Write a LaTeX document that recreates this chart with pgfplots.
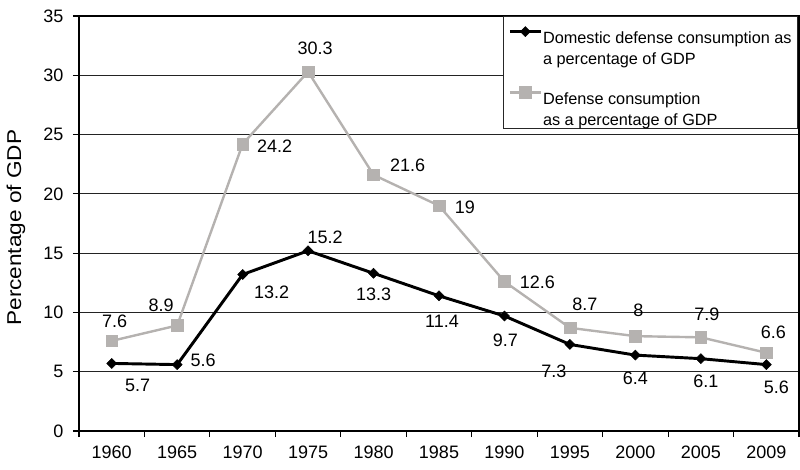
\documentclass[border=0pt]{standalone}
\usepackage{graphicx}
\usepackage{pgfplots}
\pgfplotsset{compat=1.18}
\usepackage{pgfplotstable}
\usepackage{fontspec}
\setmainfont{Liberation Sans}
\definecolor{gry}{RGB}{181,178,176}
\definecolor{gridc}{RGB}{35,35,35}

% domestic defense consumption (black)
\pgfplotstableread{
x y lab dx dy
0 5.7 5.7 19.5 -16.5
1 5.6 5.6 19.5 3
2 13.2 13.2 21.75 -13.5
3 15.2 15.2 12.75 9.75
4 13.3 13.3 0 -15.75
5 11.4 11.4 2.25 -18.75
6 9.7 9.7 0.75 -18
7 7.3 7.3 -12 -20.25
8 6.4 6.4 0 -17.25
9 6.1 6.1 3.75 -17.25
10 5.6 5.6 7.5 -17.25
}\dom

% defense consumption (gray)
\pgfplotstableread{
x y lab dx dy
0 7.6 7.6 2.25 15
1 8.9 8.9 -12 15
2 24.2 24.2 24 -1.5
3 30.3 30.3 5.25 17.25
4 21.6 21.6 25.5 7.5
5 19 19 19.5 -1.5
6 12.6 12.6 24.75 -0.75
7 8.7 8.7 11.25 18
8 8 8 2.25 19.5
9 7.9 7.9 4.5 17.25
10 6.6 6.6 5.25 15
}\defcons

\pgfplotsset{labelled/.style={
  point meta=explicit symbolic,
  nodes near coords,
  visualization depends on={\thisrow{dx} \as \dx},
  visualization depends on={\thisrow{dy} \as \dy},
  nodes near coords style={font=\fontsize{13.5}{16}\selectfont, text=black, anchor=center, xshift=\dx pt, yshift=\dy pt},
}}

\begin{document}
\begin{tikzpicture}
\useasboundingbox (-59.25pt,-28.5pt) rectangle (540.75pt,323.25pt);
\begin{axis}[
  at={(0,0)}, anchor=south west,
  scale only axis, width=540pt, height=311.25pt,
  xmin=-0.5, xmax=10.5, ymin=0, ymax=35,
  xtick={0,...,10},
  xticklabels={1960,1965,1970,1975,1980,1985,1990,1995,2000,2005,2009},
  minor xtick={-0.5,0.5,...,10.5},
  ytick={0,5,...,35},
  tick align=outside, tick pos=left,
  major x tick style={draw=none},
  major tick length=4.5pt, minor tick length=4.5pt,
  tick style={black, line width=0.8pt},
  ymajorgrids, grid style={gridc, line width=0.75pt},
  axis line style={black, line width=1pt},
  /pgf/number format/assume math mode=true,
  tick label style={font=\fontsize{13.5}{16}\selectfont},
  xticklabel style={yshift=-3pt},
  yticklabel style={xshift=-3.75pt},
  ylabel={\scalebox{1.13}[1]{Percentage of GDP}},
  ylabel style={at={([xshift=-47.25pt]rel axis cs:0,0.49)}, anchor=center, font=\fontsize{15}{17}\selectfont},
  clip=false,
  legend style={at={(rel axis cs:0.9985,1.0)}, anchor=north east, draw=black!85, line width=0.9pt, fill=white,
    font=\fontsize{12.2}{16}\selectfont, inner xsep=3.75pt, inner ysep=7pt, row sep=21pt,
    nodes={inner xsep=0.5pt, inner ysep=2pt}, cells={anchor=west}},
  legend image code/.code={\draw[mark repeat=2,mark phase=2,#1,yshift=8pt] plot coordinates {(0pt,0pt) (11.6pt,0pt) (23.25pt,0pt)};},
]
\addplot[black, line width=2.2pt, mark=square*, mark size=2.65pt, mark options={rotate=45, line width=0.4pt}, labelled]
  table[x=x, y=y, meta=lab]{\dom};
\addlegendentry{\begin{tabular}{@{}l@{}}Domestic defense consumption as\\a percentage of GDP\end{tabular}}
\addplot[gry, line width=1.8pt, mark=square*, mark size=4.4pt, mark options={line width=0.4pt}, labelled]
  table[x=x, y=y, meta=lab]{\defcons};
\addlegendentry{\begin{tabular}{@{}l@{}}Defense consumption\\as a percentage of GDP\end{tabular}}
\end{axis}
\end{tikzpicture}
\end{document}
